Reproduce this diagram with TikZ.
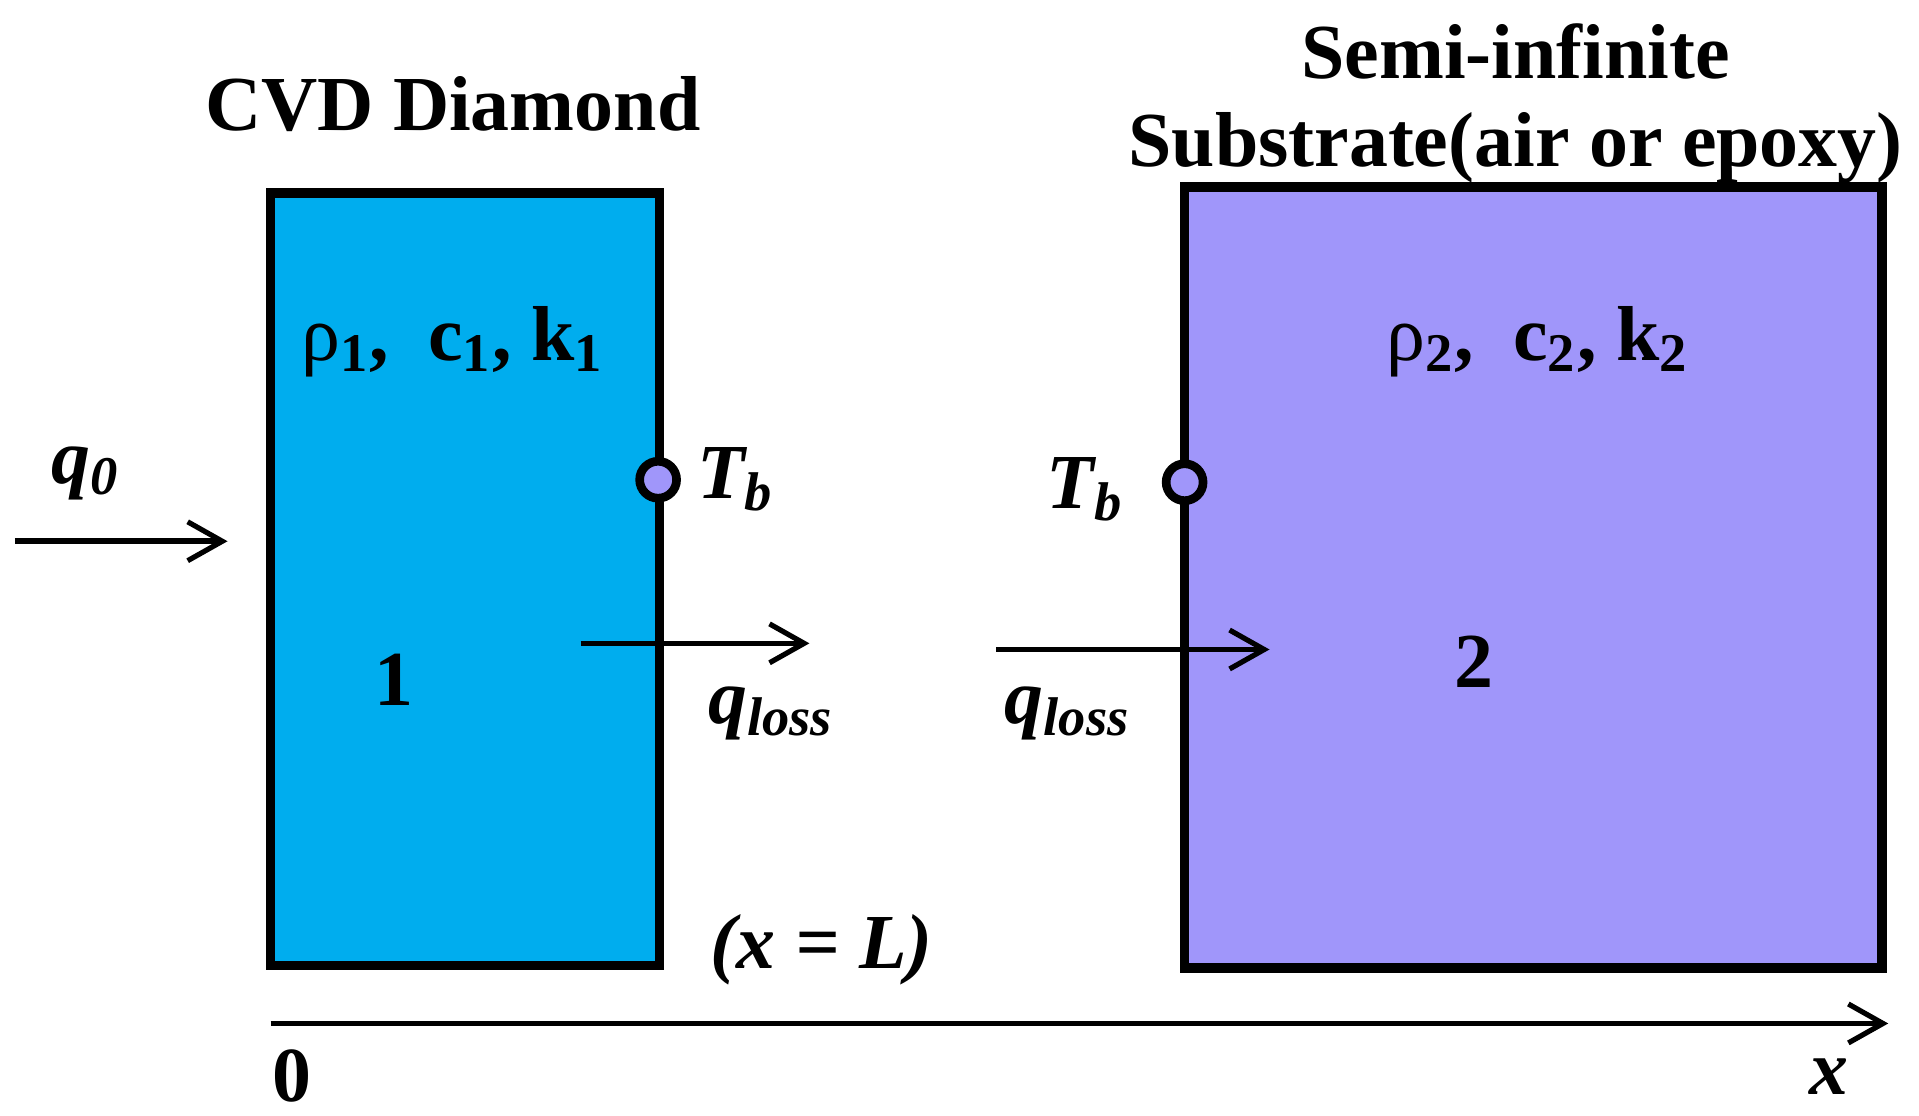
\documentclass[tikz,border=0pt]{standalone}
\usepackage{fontspec}
\setmainfont{Liberation Serif}
\usetikzlibrary{positioning}
\usetikzlibrary{arrows.meta}
\definecolor{diamond}{HTML}{00ADEE}
\definecolor{substr}{HTML}{A096FA}
\tikzset{
  layer/.style={draw, line width=2.2pt},
  lbl/.style={font=\fontsize{18}{21}\selectfont\bfseries, inner sep=0pt},
  flux/.style={-{Straight Barb[length=8pt,width=9pt,line width=1.2pt]}, line width=1.3pt},
  probe/.style={circle, draw, line width=2pt, fill=substr, minimum size=0.3cm, inner sep=0pt}
}
\begin{document}
\begin{tikzpicture}[x=0.01cm,y=-0.01cm]
  \useasboundingbox (0,0) rectangle (1560,907);
  \draw[layer, fill=diamond] (220,157) rectangle (536,785);
  \draw[layer, fill=substr] (963,152) rectangle (1530,787);

  \node[lbl](title1) at (368,85) {CVD Diamond};
  \node[lbl](title2a) at (1232,42) {Semi-infinite};
  \node[lbl](title2b) at (1232,120) {Substrate(air or epoxy)};

  \node[lbl](prop1) at (368,278) {{\mdseries ρ}\textsubscript{1},\ \ c\textsubscript{1}, k\textsubscript{1}};
  \node[lbl](prop2) at (1250,278) {{\mdseries ρ}\textsubscript{2},\ \ c\textsubscript{2}, k\textsubscript{2}};
  \node[lbl](one) at (320,553) {1};
  \node[lbl](two) at (1198,538) {2};

  \node[probe](tb1) at (535,390) {};
  \node[probe](tb2) at (963,392) {};
  \node[lbl](tb1lbl) at (598,390) {\itshape T\textsubscript{b}};
  \node[lbl](tb2lbl) at (882,398) {\itshape T\textsubscript{b}};

  \node[lbl](q0) at (70,385) {\itshape q\textsubscript{0}};
  \coordinate(q0s) at (12,440);
  \coordinate(q0e) at (185,440);
  \draw[flux] (q0s) -- (q0e);

  \coordinate(l1s) at (472,523);
  \coordinate(l1e) at (658,523);
  \draw[flux] (l1s) -- (l1e);
  \node[lbl](loss1) at (627,580) {\itshape q\textsubscript{loss}};

  \coordinate(l2s) at (810,528);
  \coordinate(l2e) at (1032,528);
  \draw[flux] (l2s) -- (l2e);
  \node[lbl](loss2) at (868,580) {\itshape q\textsubscript{loss}};

  \node[lbl](xl) at (668,772) {\itshape (x = L)};

  \coordinate(ax0) at (220,832);
  \coordinate(ax1) at (1535,832);
  \draw[flux] (ax0) -- (ax1);
  \node[lbl](zero) at (237,875) {0};
  \node[lbl](xax) at (1487,875) {\itshape x};
\end{tikzpicture}
\end{document}
